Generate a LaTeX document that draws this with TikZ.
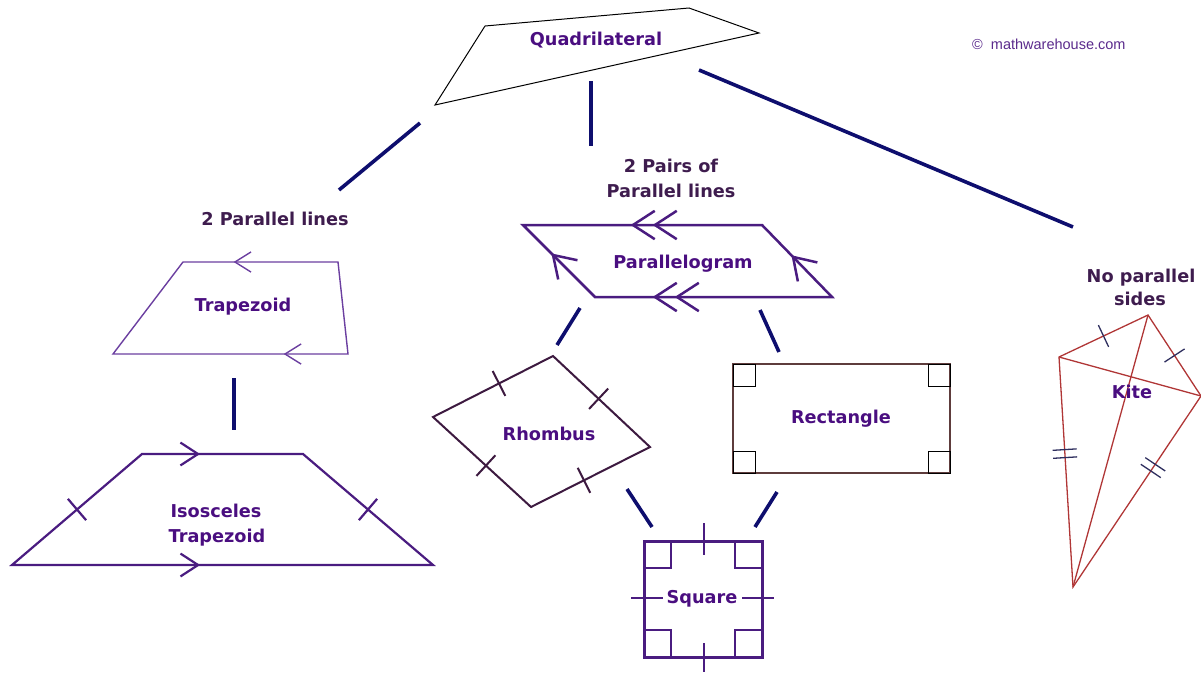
\documentclass[tikz,border=0pt]{standalone}
\usepackage{fontspec}
\setmainfont{DejaVu Sans}
\newfontfamily\cpyfont{Liberation Sans}
\usetikzlibrary{calc}
\definecolor{namec}{HTML}{4A0E80}
\definecolor{catc}{HTML}{3E1C4E}
\definecolor{connc}{HTML}{0E0E6E}
\definecolor{trapc}{HTML}{6B3FA0}
\definecolor{purc}{HTML}{4A1C80}
\definecolor{rhoc}{HTML}{3D1A40}
\definecolor{recc}{HTML}{5E3C3C}
\definecolor{kitec}{HTML}{B03636}
\definecolor{kticks}{HTML}{2E2E5E}
\definecolor{cpyc}{HTML}{5A2A8C}
\newcommand\qchev[6][]{%
  \path ($(#2)!#4!(#3)$) coordinate (chP);
  \draw[#1] ($(chP)!#5!#6:(#2)$) -- (chP) -- ($(chP)!#5!-#6:(#2)$);}
\newcommand\qtick[5][]{%
  \path ($(#2)!#4!(#3)$) coordinate (tkP);
  \draw[#1] ($(tkP)!#5!90:(#3)$) -- ($(tkP)!#5!-90:(#3)$);}
\newcommand\qdtick[6][]{%
  \path ($(#2)!#4!(#3)$) coordinate (tkP);
  \path ($(tkP)!#6!(#3)$) coordinate (tkA);
  \path ($(tkP)!-#6!(#3)$) coordinate (tkB);
  \draw[#1] ($(tkA)!#5!90:(#3)$) -- ($(tkA)!#5!-90:(#3)$);
  \draw[#1] ($(tkB)!#5!90:(#3)$) -- ($(tkB)!#5!-90:(#3)$);}
\begin{document}
\begin{tikzpicture}[x=1pt,y=-1pt,
  lbl/.style={font=\fontsize{17.7}{21}\selectfont\bfseries, text=namec, inner sep=0pt, anchor=base},
  cat/.style={lbl, text=catc},
  conn/.style={draw=connc, line width=3.6pt},
  line join=miter]
\useasboundingbox (0,0) rectangle (1201,672);

% ---------- Quadrilateral ----------
\coordinate (q1) at (435,105);
\coordinate (q2) at (485,26);
\coordinate (q3) at (689,8);
\coordinate (q4) at (759,33);
\draw[black, line width=1pt] (q1) -- (q2) -- (q3) -- (q4) -- cycle;
\node[lbl] (quad) at (596,45) {Quadrilateral};

% ---------- connectors ----------
\coordinate (c1a) at (420,123); \coordinate (c1b) at (339,190);
\coordinate (c2a) at (591,81);  \coordinate (c2b) at (591,146);
\coordinate (c3a) at (699,70);  \coordinate (c3b) at (1073,227);
\coordinate (c4a) at (234,378); \coordinate (c4b) at (234,430);
\coordinate (c5a) at (580,308); \coordinate (c5b) at (557,345);
\coordinate (c6a) at (760,310); \coordinate (c6b) at (779,352);
\coordinate (c7a) at (627,489); \coordinate (c7b) at (652,527);
\coordinate (c8a) at (777,492); \coordinate (c8b) at (755,527);
\foreach \i in {1,...,8} {\draw[conn] (c\i a) -- (c\i b);}

% ---------- category labels ----------
\node[cat] (twopar) at (275,225) {2 Parallel lines};
\node[cat] (pairsA) at (671,172) {2 Pairs of};
\node[cat] (pairsB) at (671,197) {Parallel lines};
\node[cat] (nopA) at (1141,282) {No parallel};
\node[cat] (nopB) at (1140,305) {sides};
\node[font=\cpyfont\fontsize{14.5}{16}\selectfont, text=cpyc, inner sep=0pt, anchor=base west] (copy) at (972,49) {©\ \ mathwarehouse.com};

% ---------- Trapezoid ----------
\coordinate (t1) at (183,262);
\coordinate (t2) at (338,262);
\coordinate (t3) at (348,354);
\coordinate (t4) at (113,354);
\draw[trapc, line width=1.4pt] (t1) -- (t2) -- (t3) -- (t4) -- cycle;
\qchev[trapc, line width=1.4pt]{t2}{t1}{0.665}{19pt}{32}
\qchev[trapc, line width=1.4pt]{t3}{t4}{0.268}{19pt}{32}
\node[lbl] (trap) at (243,311) {Trapezoid};

% ---------- Isosceles trapezoid ----------
\coordinate (i1) at (142,454);
\coordinate (i2) at (303,454);
\coordinate (i3) at (433,565);
\coordinate (i4) at (12,565);
\draw[purc, line width=2.2pt] (i1) -- (i2) -- (i3) -- (i4) -- cycle;
\qchev[purc, line width=2.2pt]{i1}{i2}{0.348}{21pt}{33}
\qchev[purc, line width=2.2pt]{i4}{i3}{0.442}{21pt}{33}
\qtick[purc, line width=2.2pt]{i4}{i1}{0.5}{14pt}
\qtick[purc, line width=2.2pt]{i2}{i3}{0.5}{14pt}
\node[lbl] (isoA) at (216,517) {Isosceles};
\node[lbl] (isoB) at (217,542) {Trapezoid};

% ---------- Parallelogram ----------
\coordinate (p1) at (523,225);
\coordinate (p2) at (762,225);
\coordinate (p3) at (832,297);
\coordinate (p4) at (595,297);
\draw[purc, line width=2.5pt] (p1) -- (p2) -- (p3) -- (p4) -- cycle;
\qchev[purc, line width=2.5pt]{p2}{p1}{0.54}{26pt}{33}
\qchev[purc, line width=2.5pt]{p2}{p1}{0.448}{26pt}{33}
\qchev[purc, line width=2.5pt]{p3}{p4}{0.747}{26pt}{33}
\qchev[purc, line width=2.5pt]{p3}{p4}{0.654}{26pt}{33}
\qchev[purc, line width=2.5pt]{p4}{p1}{0.583}{25pt}{33}
\qchev[purc, line width=2.5pt]{p3}{p2}{0.557}{25pt}{33}
\node[lbl] (para) at (683,268) {Parallelogram};

% ---------- Rhombus ----------
\coordinate (r1) at (433,417);
\coordinate (r2) at (553,356);
\coordinate (r3) at (650,447);
\coordinate (r4) at (531,507);
\draw[rhoc, line width=2pt] (r1) -- (r2) -- (r3) -- (r4) -- cycle;
\qtick[rhoc, line width=2pt]{r1}{r2}{0.55}{14pt}
\qtick[rhoc, line width=2pt]{r2}{r3}{0.47}{14pt}
\qtick[rhoc, line width=2pt]{r1}{r4}{0.54}{14pt}
\qtick[rhoc, line width=2pt]{r4}{r3}{0.445}{14pt}
\node[lbl] (rhom) at (549,440) {Rhombus};

% ---------- Rectangle ----------
\draw[recc, line width=2pt] (733,364) rectangle (950,473);
\draw[black, line width=1pt] (733,364) rectangle ++(22,22);
\draw[black, line width=1pt] (950,364) rectangle ++(-22,22);
\draw[black, line width=1pt] (733,473) rectangle ++(22,-22);
\draw[black, line width=1pt] (950,473) rectangle ++(-22,-22);
\node[lbl] (rect) at (841,423) {Rectangle};

% ---------- Square ----------
\draw[purc, line width=3pt] (644,541) rectangle (762,657);
\draw[purc, line width=1.3pt] (644,541) rectangle ++(27,27);
\draw[purc, line width=1.3pt] (762,541) rectangle ++(-27,27);
\draw[purc, line width=1.3pt] (644,657) rectangle ++(27,-27);
\draw[purc, line width=1.3pt] (762,657) rectangle ++(-27,-27);
\draw[purc, line width=1.3pt] (704,523) -- (704,555);
\draw[purc, line width=1.3pt] (704,643) -- (704,672);
\draw[purc, line width=1.3pt] (631,598) -- (663,598);
\draw[purc, line width=1.3pt] (742,598) -- (774,598);
\node[lbl] (sq) at (702,603) {Square};

% ---------- Kite ----------
\coordinate (k1) at (1148,315);
\coordinate (k2) at (1201,396);
\coordinate (k3) at (1073,587);
\coordinate (k4) at (1059,357);
\draw[kitec, line width=1.3pt] (k1) -- (k2) -- (k3) -- (k4) -- cycle;
\draw[kitec, line width=1.3pt] (k1) -- (k3);
\draw[kitec, line width=1.3pt] (k4) -- (k2);
\qtick[kticks, line width=1.3pt]{k4}{k1}{0.5}{12pt}
\qtick[kticks, line width=1.3pt]{k1}{k2}{0.5}{12pt}
\qdtick[kticks, line width=1.3pt]{k4}{k3}{0.42}{12pt}{4pt}
\qdtick[kticks, line width=1.3pt]{k2}{k3}{0.375}{12pt}{4pt}
\node[lbl] (kite) at (1132,398) {Kite};
\end{tikzpicture}
\end{document}
